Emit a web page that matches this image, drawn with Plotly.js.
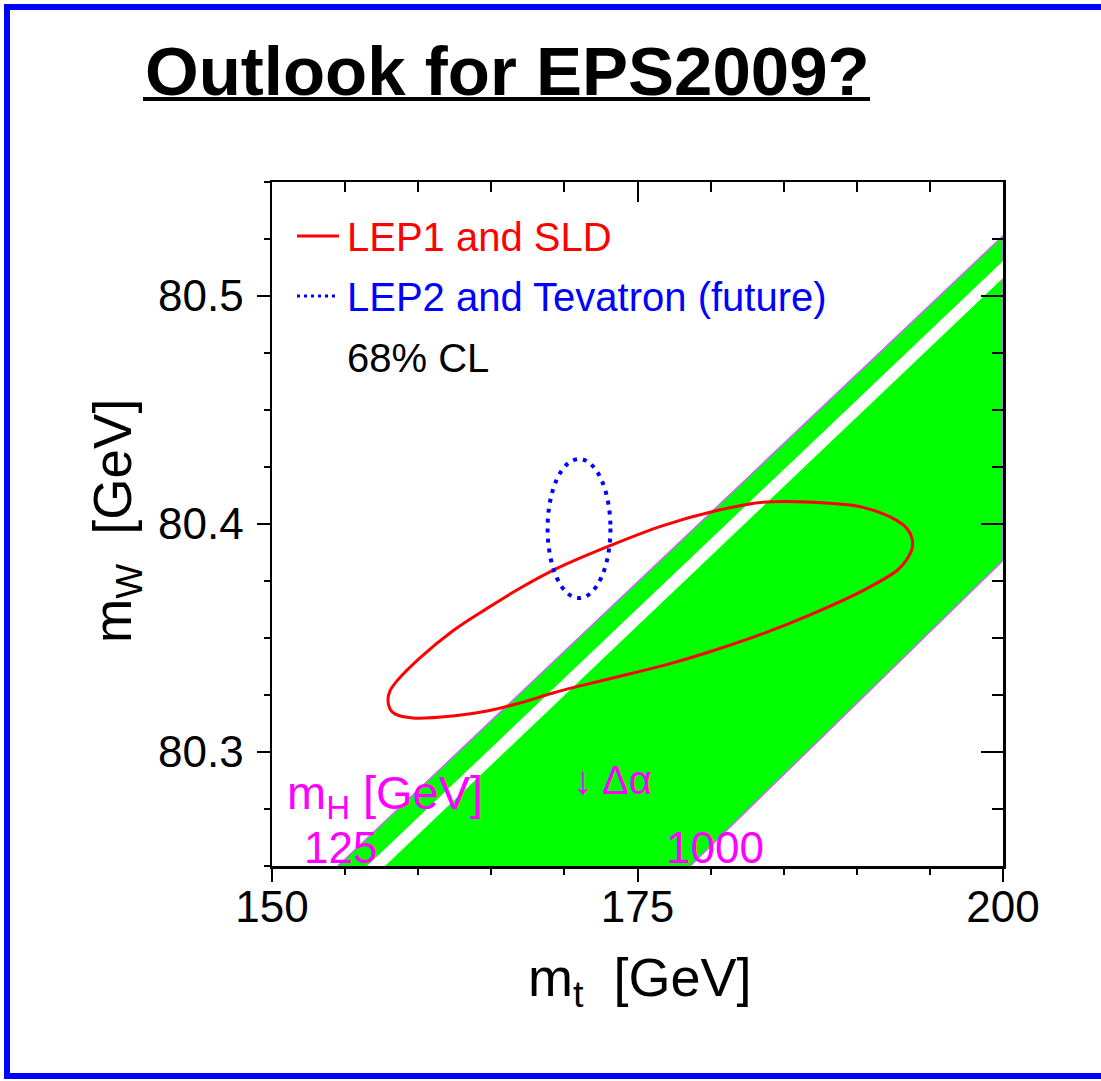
<!DOCTYPE html>
<html><head><meta charset="utf-8">
<script src="https://cdn.plot.ly/plotly-3.0.1.min.js"></script>
<style>html,body{margin:0;padding:0;background:#fff;} #chart{width:1101px;height:1081px;}</style>
</head><body><div id="chart"></div>
<script>
// ---- data ----
const mtRange = [150, 200];
const mwRange = [80.25, 80.55];
const mtTickVals = [150, 175, 200];
const mtTickText = ['150', '175', '200'];
const mwTickVals = [80.3, 80.4, 80.5];
const mwTickText = ['80.3', '80.4', '80.5'];

// LEP1 and SLD 68% CL contour (mt, mW)
const lepMt = [187.00, 190.42, 192.75, 193.43, 193.78, 193.78, 193.37, 192.75, 190.42, 187.00, 183.58, 180.16, 177.43, 174.49, 171.07, 169.22, 166.96, 164.71, 162.38, 159.64, 158.41, 158.07, 157.93, 158.07, 158.55, 160.12, 162.38, 164.71, 166.96, 169.49, 173.12, 176.74, 180.44, 183.58, 187.00];
const lepMw = [80.4095, 80.4073, 80.4015, 80.3980, 80.3936, 80.3892, 80.3840, 80.3796, 80.3708, 80.3607, 80.3519, 80.3444, 80.3391, 80.3343, 80.3290, 80.3259, 80.3215, 80.3180, 80.3158, 80.3149, 80.3167, 80.3189, 80.3228, 80.3268, 80.3312, 80.3413, 80.3532, 80.3630, 80.3718, 80.3805, 80.3905, 80.3993, 80.4059, 80.4095, 80.4095];

// LEP2 and Tevatron (future) 68% CL ellipse
const futureCenter = [171.0, 80.398];
const futureHalfAxes = [2.15, 0.0305];

// SM band (mH 125 .. 1000) and inner white stripe
const bandMt = [154.5, 200, 200, 178.6];
const bandMw = [80.25, 80.5264, 80.384, 80.25];
const stripeMt = [156.5, 200, 200, 157.73];
const stripeMw = [80.25, 80.5154, 80.5079, 80.25];

const legendLabels = ['LEP1 and SLD', 'LEP2 and Tevatron (future)', '68% CL'];

// ---- layout helpers (pixel -> paper, for decoration only) ----
const L = 272, R = 1003, T = 182, B = 866;
const PX = p => (p - L) / (R - L);
const PY = p => (B - p) / (B - T);
const FONT = 'Liberation Sans, Arial, Helvetica, sans-serif';
const MAG = '#ff00ff';

const traces = [
  {x: bandMt, y: bandMw, type: 'scatter', mode: 'lines', fill: 'toself',
   fillcolor: '#00ff00', line: {color: '#cc66ff', width: 1.5}, hoverinfo: 'skip', showlegend: false},
  {x: stripeMt, y: stripeMw, type: 'scatter', mode: 'lines', fill: 'toself',
   fillcolor: '#ffffff', line: {color: 'rgba(0,0,0,0)', width: 0}, hoverinfo: 'skip', showlegend: false},
  {x: lepMt, y: lepMw, type: 'scatter', mode: 'lines', xaxis: 'x2', yaxis: 'y2',
   line: {color: '#ff0000', width: 3, shape: 'spline', smoothing: 1}, hoverinfo: 'skip', showlegend: false}
];

const axBase = {
  range: mtRange, showgrid: false, zeroline: false, showline: true,
  linecolor: '#000', linewidth: 2.5, tickcolor: '#000', tickwidth: 2,
  tickvals: mtTickVals, ticktext: mtTickText
};
const ayBase = {
  range: mwRange, showgrid: false, zeroline: false, showline: true,
  linecolor: '#000', linewidth: 2.5, tickcolor: '#000', tickwidth: 2,
  tickvals: mwTickVals, ticktext: mwTickText
};

const layout = {
  width: 1101, height: 1081,
  margin: {l: L, r: 1101 - R, t: T, b: 1081 - B, pad: 0},
  paper_bgcolor: '#ffffff', plot_bgcolor: '#ffffff',
  showlegend: false,
  font: {family: FONT, color: '#000'},
  xaxis: Object.assign({}, axBase, {
    side: 'bottom', ticks: 'outside', ticklen: 13,
    tickfont: {family: FONT, size: 44, color: '#000'}, ticklabelstandoff: -12,
    minor: {dtick: 5, tick0: 150, ticks: 'outside', ticklen: 6, tickwidth: 2, tickcolor: '#000'}
  }),
  yaxis: Object.assign({}, ayBase, {
    side: 'left', ticks: 'outside', ticklen: 13,
    tickfont: {family: FONT, size: 44, color: '#000'}, ticklabelstandoff: 4,
    minor: {dtick: 0.025, tick0: 80.25, ticks: 'outside', ticklen: 6, tickwidth: 2, tickcolor: '#000'}
  }),
  xaxis2: Object.assign({}, axBase, {
    overlaying: 'x', side: 'top', ticks: 'inside', ticklen: 20, showticklabels: false,
    minor: {dtick: 5, tick0: 150, ticks: 'inside', ticklen: 10, tickwidth: 2, tickcolor: '#000'}
  }),
  yaxis2: Object.assign({}, ayBase, {
    overlaying: 'y', side: 'right', ticks: 'inside', ticklen: 22, showticklabels: false,
    minor: {dtick: 0.025, tick0: 80.25, ticks: 'inside', ticklen: 11, tickwidth: 2, tickcolor: '#000'}
  }),
  shapes: [
    {type: 'circle', xref: 'x', yref: 'y',
     x0: futureCenter[0] - futureHalfAxes[0], x1: futureCenter[0] + futureHalfAxes[0],
     y0: futureCenter[1] - futureHalfAxes[1], y1: futureCenter[1] + futureHalfAxes[1],
     line: {color: '#0000ff', width: 4, dash: '4px,6px'}, layer: 'above'},
    {type: 'line', xref: 'paper', yref: 'paper', x0: PX(297), x1: PX(339), y0: PY(236), y1: PY(236),
     line: {color: '#ff0000', width: 3}},
    {type: 'line', xref: 'paper', yref: 'paper', x0: PX(297), x1: PX(339), y0: PY(296), y1: PY(296),
     line: {color: '#0000ff', width: 3, dash: '3px,4px'}},
    {type: 'line', xref: 'paper', yref: 'paper', x0: PX(143), x1: PX(870), y0: PY(99), y1: PY(99),
     line: {color: '#000', width: 4}},
    {type: 'rect', xref: 'paper', yref: 'paper', x0: PX(7), x1: PX(1120), y0: PY(7), y1: PY(1076),
     line: {color: '#0000ff', width: 6}, fillcolor: 'rgba(0,0,0,0)'}
  ],
  annotations: [
    {text: '<b>Outlook for EPS2009?</b>', xref: 'paper', yref: 'paper', x: PX(143), y: PY(71),
     xanchor: 'left', yanchor: 'middle', showarrow: false, font: {family: FONT, size: 69, color: '#000'}},
    {text: legendLabels[0], xref: 'paper', yref: 'paper', x: PX(345), y: PY(237),
     xanchor: 'left', yanchor: 'middle', showarrow: false, font: {family: FONT, size: 40, color: '#ff0000'}},
    {text: legendLabels[1], xref: 'paper', yref: 'paper', x: PX(345), y: PY(297),
     xanchor: 'left', yanchor: 'middle', showarrow: false, font: {family: FONT, size: 40, color: '#0000ff'}},
    {text: legendLabels[2], xref: 'paper', yref: 'paper', x: PX(345), y: PY(358),
     xanchor: 'left', yanchor: 'middle', showarrow: false, font: {family: FONT, size: 40, color: '#000'}},
    {text: 'm<sub>H</sub> [GeV]', xref: 'x', yref: 'y', x: 157.7, y: 80.2805,
     xanchor: 'center', yanchor: 'middle', showarrow: false, font: {family: FONT, size: 47, color: MAG}},
    {text: '125', xref: 'x', yref: 'y', x: 154.7, y: 80.2580,
     xanchor: 'center', yanchor: 'middle', showarrow: false, font: {family: FONT, size: 44, color: MAG}},
    {text: '1000', xref: 'x', yref: 'y', x: 180.3, y: 80.2580,
     xanchor: 'center', yanchor: 'middle', showarrow: false, font: {family: FONT, size: 44, color: MAG}},
    {text: '↓ Δα', xref: 'x', yref: 'y', x: 173.26, y: 80.2877,
     xanchor: 'center', yanchor: 'middle', showarrow: false, font: {family: FONT, size: 40, color: MAG}},
    {text: 'm<sub>t</sub>&nbsp;&nbsp;[GeV]', xref: 'paper', yref: 'paper', x: PX(640), y: PY(981),
     xanchor: 'center', yanchor: 'middle', showarrow: false, font: {family: FONT, size: 54, color: '#000'}},
    {text: 'm<sub>W</sub>&nbsp;&nbsp;[GeV]', xref: 'paper', yref: 'paper', x: PX(116), y: PY(521),
     xanchor: 'center', yanchor: 'middle', textangle: -90, showarrow: false, font: {family: FONT, size: 53, color: '#000'}}
  ]
};

Plotly.newPlot('chart', traces, layout, {displayModeBar: false, staticPlot: true});
</script>
</body></html>
